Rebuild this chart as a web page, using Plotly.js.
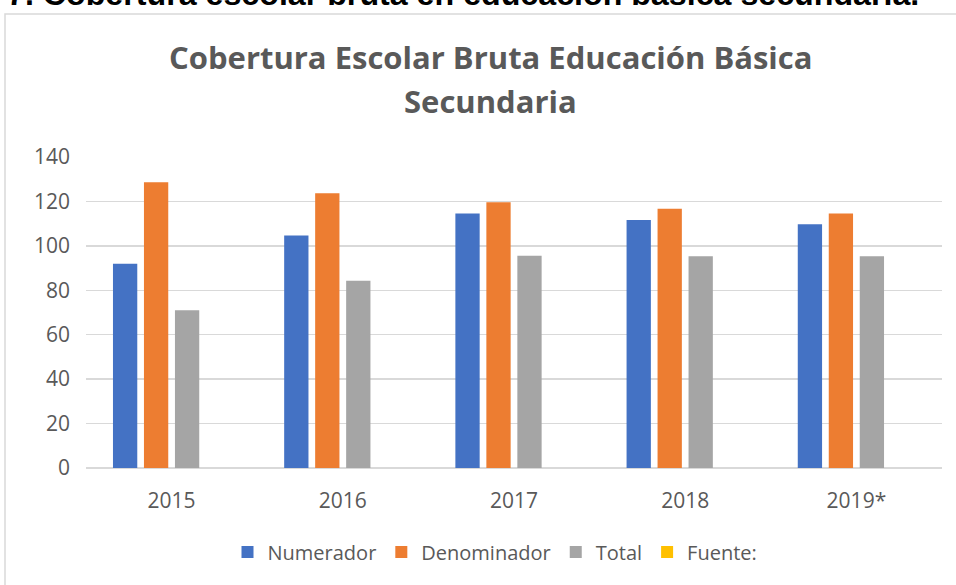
<!DOCTYPE html>
<html>
<head>
<meta charset="utf-8">
<script src="https://cdn.plot.ly/plotly-3.0.1.min.js"></script>
<style>html,body{margin:0;padding:0;background:#fff;}#chart{width:956px;height:585px;}</style>
</head>
<body>
<div id="chart"></div>
<script>
const categories = ["2015", "2016", "2017", "2018", "2019*"];
const numerador = [92, 104.7, 114.6, 111.6, 109.7];
const denominador = [128.6, 123.7, 119.6, 116.7, 114.6];
const total = [71, 84.3, 95.5, 95.3, 95.3];
const fuente = [null, null, null, null, null];
const yTicks = [0, 20, 40, 60, 80, 100, 120, 140];
const titleLines = ["Cobertura Escolar Bruta Educación Básica", "Secundaria"];
const headerText = "7. Cobertura escolar bruta en educación básica secundaria.";

const mk = (name, y, color) => ({
  type: "bar", name: name, x: categories, y: y,
  marker: {color: color, line: {width: 0}},
  hoverinfo: "y"
});

const data = [
  mk("Numerador", numerador, "#4472C4"),
  mk("Denominador", denominador, "#ED7D31"),
  mk("Total", total, "#A5A5A5"),
  mk("Fuente:", fuente, "#FFC000")
];

// pixel helpers for placing text relative to the plot area
const L = 86, R = 14, T = 157, B = 117, W = 956, H = 585;
const pw = W - L - R, ph = H - T - B;
const px = x => (x - L) / pw;
const py = y => (H - B - y) / ph;

const layout = {
  width: W, height: H,
  margin: {l: L, r: R, t: T, b: B},
  paper_bgcolor: "#ffffff", plot_bgcolor: "#ffffff",
  barmode: "group", bargap: 0.276, bargroupgap: 0.216,
  font: {family: "'Open Sans', sans-serif", color: "#595959"},
  xaxis: {
    type: "category", showgrid: false, zeroline: false, showline: false,
    ticks: "", ticklabelstandoff: 18,
    tickfont: {size: 21, color: "#595959"}
  },
  yaxis: {
    range: [0, 140], tickvals: yTicks, showgrid: true, gridcolor: "#d9d9d9", gridwidth: 1.5,
    zeroline: true, zerolinecolor: "#d9d9d9", zerolinewidth: 1.5, showline: false,
    ticks: "", ticklabelstandoff: 15,
    tickfont: {size: 21, color: "#595959"}
  },
  legend: {
    orientation: "h", x: px(495), xanchor: "center", y: py(552), yanchor: "middle",
    font: {size: 20, color: "#595959"}, traceorder: "normal",
    itemwidth: 30
  },
  shapes: [{
    type: "rect", xref: "paper", yref: "paper",
    x0: px(5), x1: px(965), y0: py(595), y1: py(14),
    line: {color: "#d9d9d9", width: 1.5}, fillcolor: "rgba(0,0,0,0)", layer: "below"
  }],
  annotations: [
    {
      text: titleLines[0], xref: "paper", yref: "paper",
      x: px(490.5), xanchor: "center", y: py(57), yanchor: "middle", showarrow: false,
      font: {family: "'Open Sans', sans-serif", size: 31, color: "#595959", weight: 700}
    },
    {
      text: titleLines[1], xref: "paper", yref: "paper",
      x: px(490.5), xanchor: "center", y: py(101), yanchor: "middle", showarrow: false,
      font: {family: "'Open Sans', sans-serif", size: 31, color: "#595959", weight: 700}
    },
    {
      text: headerText, xref: "paper", yref: "paper",
      x: px(5), xanchor: "left", y: py(14), yanchor: "bottom", showarrow: false,
      font: {family: "'Liberation Sans', Arial, sans-serif", size: 32.2, color: "#000000", weight: 700}
    }
  ],
  showlegend: true
};

Plotly.newPlot("chart", data, layout, {displayModeBar: false, staticPlot: true});
</script>
</body>
</html>
